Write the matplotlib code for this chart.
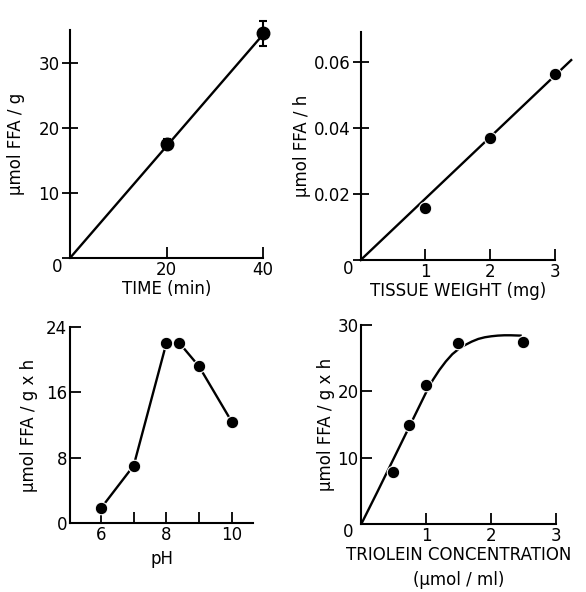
import matplotlib.pyplot as plt

plt.rcParams['font.family'] = ['DejaVu Sans']
plt.rcParams['font.size'] = 12

# time course
time_min = [20, 40]
ffa_time = [17.5, 34.5]
ffa_time_err = [0.8, 1.9]
time_line_x = [0, 40]
time_line_y = [0, 34.3]

# tissue weight
weight_mg = [1, 2, 3]
ffa_weight = [0.0157, 0.037, 0.0564]
weight_line_x = [0, 3.25]
weight_line_y = [0, 0.0605]

# pH
ph = [6, 7, 8, 8.4, 9, 10]
ffa_ph = [1.85, 7.05, 22.0, 22.0, 19.15, 12.4]

# triolein concentration
triolein = [0.49, 0.74, 1.0, 1.48, 2.49]
ffa_triolein = [7.9, 14.9, 21.0, 27.3, 27.5]
curve_x = [0, 0.25, 0.5, 0.75, 1.0, 1.1, 1.2, 1.3, 1.4, 1.5, 1.6, 1.7, 1.8,
           1.9, 2.0, 2.1, 2.2, 2.3, 2.45]
curve_y = [0, 4.9, 9.9, 14.9, 19.9, 21.7, 23.2, 24.5, 25.6, 26.4, 27.0, 27.5,
           27.9, 28.15, 28.3, 28.4, 28.45, 28.45, 28.4]

W, H = 586, 592
fig = plt.figure(figsize=(W / 100, H / 100), dpi=100)


def make_ax(l, r, b, t, ydir='in'):
    ax = fig.add_axes([l / W, 1 - b / H, (r - l) / W, (b - t) / H])
    ax.spines['top'].set_visible(False)
    ax.spines['right'].set_visible(False)
    for s in ['left', 'bottom']:
        ax.spines[s].set_linewidth(1.5)
    ax.tick_params(direction='in', length=8, width=1.3, pad=2)
    if ydir == 'inout':
        ax.tick_params(axis='y', direction='inout', length=11)
    return ax


mk = dict(marker='o', markersize=9, color='black', linestyle='none',
          markeredgecolor='white', markeredgewidth=0.8, zorder=3, clip_on=False)

# panel 1
ax1 = make_ax(70, 263, 258, 30, 'inout')
ax1.plot(time_line_x, time_line_y, color='black', lw=1.7)
ax1.errorbar(time_min, ffa_time, yerr=ffa_time_err, fmt='o', color='black',
             markersize=9, capsize=3, elinewidth=1.5, capthick=1.5, clip_on=False)
ax1.set_xlim(0, 40)
ax1.set_ylim(0, 35)
ax1.set_xticks([0, 20, 40], ['', '20', '40'])
ax1.set_yticks([0, 10, 20, 30], ['', '10', '20', '30'])
ax1.text(-0.04, -0.04, '0', transform=ax1.transAxes, ha='right', va='center')
ax1.set_xlabel('TIME (min)', labelpad=1)
ax1.set_ylabel('μmol FFA / g', labelpad=10)

# panel 2
ax2 = make_ax(360.7, 555, 260, 32, 'inout')
ax2.plot(weight_line_x, weight_line_y, color='black', lw=1.7, clip_on=False)
ax2.plot(weight_mg, ffa_weight, **mk)
ax2.set_xlim(0, 3)
ax2.set_ylim(0, 0.069)
ax2.set_xticks([1, 2, 3])
ax2.set_yticks([0, 0.02, 0.04, 0.06], ['', '0.02', '0.04', '0.06'])
ax2.text(-0.04, -0.04, '0', transform=ax2.transAxes, ha='right', va='center')
ax2.set_xlabel('TISSUE WEIGHT (mg)', labelpad=1)
ax2.set_ylabel('μmol FFA / h', labelpad=2)

# panel 3
ax3 = make_ax(70, 253.3, 523.3, 326.7)
ax3.plot(ph, ffa_ph, color='black', lw=1.7, marker='o', markersize=9,
         markeredgecolor='white', markeredgewidth=0.8, clip_on=False)
ax3.set_xlim(5.05, 10.66)
ax3.set_ylim(0, 24)
ax3.set_xticks([6, 7, 8, 9, 10], ['6', '', '8', '', '10'])
ax3.set_yticks([0, 8, 16, 24])
ax3.set_xlabel('pH', labelpad=4)
ax3.set_ylabel('μmol FFA / g x h', labelpad=6)

# panel 4
ax4 = make_ax(361.3, 556.3, 524, 325)
ax4.plot(curve_x, curve_y, color='black', lw=1.7)
ax4.plot(triolein, ffa_triolein, **mk)
ax4.set_xlim(0, 3)
ax4.set_ylim(0, 30)
ax4.set_xticks([0, 1, 2, 3], ['', '1', '2', '3'])
ax4.set_yticks([0, 10, 20, 30], ['', '10', '20', '30'])
ax4.text(-0.04, -0.04, '0', transform=ax4.transAxes, ha='right', va='center')
ax4.set_xlabel('TRIOLEIN CONCENTRATION\n(μmol / ml)', labelpad=1, linespacing=1.5)
ax4.set_ylabel('μmol FFA / g x h', labelpad=2)

fig.savefig('out.png', dpi=100)
